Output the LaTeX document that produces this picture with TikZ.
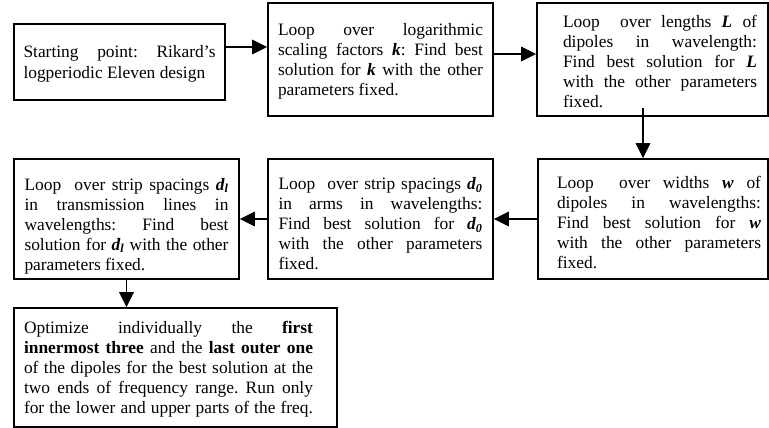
\documentclass[tikz,border=0pt]{standalone}
\usepackage{fontspec}
\setmainfont{Liberation Serif}
\usetikzlibrary{arrows.meta}
\newcommand{\bvar}[1]{\textbf{\textit{#1}}}
\newcommand{\topstrut}[1]{\rule{0pt}{#1}}
\frenchspacing
\begin{document}
\begin{tikzpicture}[x=1pt,y=-1pt,
  box/.style={draw, line width=1.8pt, inner sep=0pt, align=justify,
    font=\fontsize{17.4pt}{20pt}\selectfont},
  arr/.style={line width=1.8pt, -{Triangle[length=15pt,width=14.5pt]}}]
\useasboundingbox (0,0) rectangle (769,428);
\node[box, minimum width=211pt, minimum height=76pt, text width=192pt] (b1) at (119.5,62)
  {\baselineskip=21pt\relax\topstrut{15.4pt}Starting point: Rikard's\linebreak logperiodic Eleven design\par};
\node[box, minimum width=225pt, minimum height=113pt, text width=205pt] (b2) at (380.5,59.5)
  {\topstrut{16.2pt}Loop over logarithmic\linebreak scaling factors \bvar{k}: Find best\linebreak solution for \bvar{k} with the other\linebreak parameters fixed.\par};
\node[box, minimum width=231pt, minimum height=113pt, text width=209pt] (b3) at (652.5,59.5)
  {\leftskip=15pt\relax\topstrut{16.2pt}Loop\ \ over lengths \bvar{L} of\linebreak dipoles in wavelength:\linebreak Find best solution for \bvar{L}\linebreak with the other parameters\linebreak fixed.\par};
\node[box, minimum width=230pt, minimum height=120pt, text width=216pt] (b4) at (653,219)
  {\leftskip=12pt\relax\topstrut{20.2pt}Loop\ \ over widths \bvar{w} of\linebreak dipoles in wavelengths:\linebreak Find best solution for \bvar{w}\linebreak with the other parameters\linebreak fixed.\par};
\node[box, minimum width=225pt, minimum height=120pt, text width=204pt] (b5) at (380.5,219)
  {\topstrut{22.2pt}Loop\ \ over strip spacings \bvar{d\textsubscript{0}}\linebreak in arms in wavelengths:\linebreak Find best solution for \bvar{d\textsubscript{0}}\linebreak with the other parameters\linebreak fixed.\par};
\node[box, minimum width=225pt, minimum height=120pt, text width=204pt] (b6) at (126.5,219)
  {\topstrut{26.2pt}Loop\ \ over strip spacings \bvar{d\textsubscript{l}}\linebreak in transmission lines in\linebreak wavelengths: Find best\linebreak solution for \bvar{d\textsubscript{l}} with the other\linebreak parameters fixed.\par};
\node[box, minimum width=323pt, minimum height=119pt, text width=303pt] (b7) at (175.5,367.5)
  {\rightskip=14pt\relax\parfillskip=0pt\relax\topstrut{16pt}Optimize individually the \textbf{first}\linebreak \textbf{innermost three} and the \textbf{last outer one}\linebreak of the dipoles for the best solution at the\linebreak two ends of frequency range. Run only\linebreak for the lower and upper parts of the freq.\par};
\draw[arr] ([yshift=15pt]b1.east) -- ([yshift=15pt]b1.east -| b2.west);
\draw[arr] ([yshift=5.5pt]b2.east) -- ([yshift=5.5pt]b2.east -| b3.west);
\draw[arr] ([xshift=-9.5pt,yshift=9pt]b3.south) -- ([xshift=-9.5pt]b3.south |- b4.north);
\draw[arr] (b4.west) -- (b5.east);
\draw[arr] (b5.west) -- (b6.east);
\draw[arr] (b6.south) -- (b6.south |- b7.north);
\end{tikzpicture}
\end{document}
